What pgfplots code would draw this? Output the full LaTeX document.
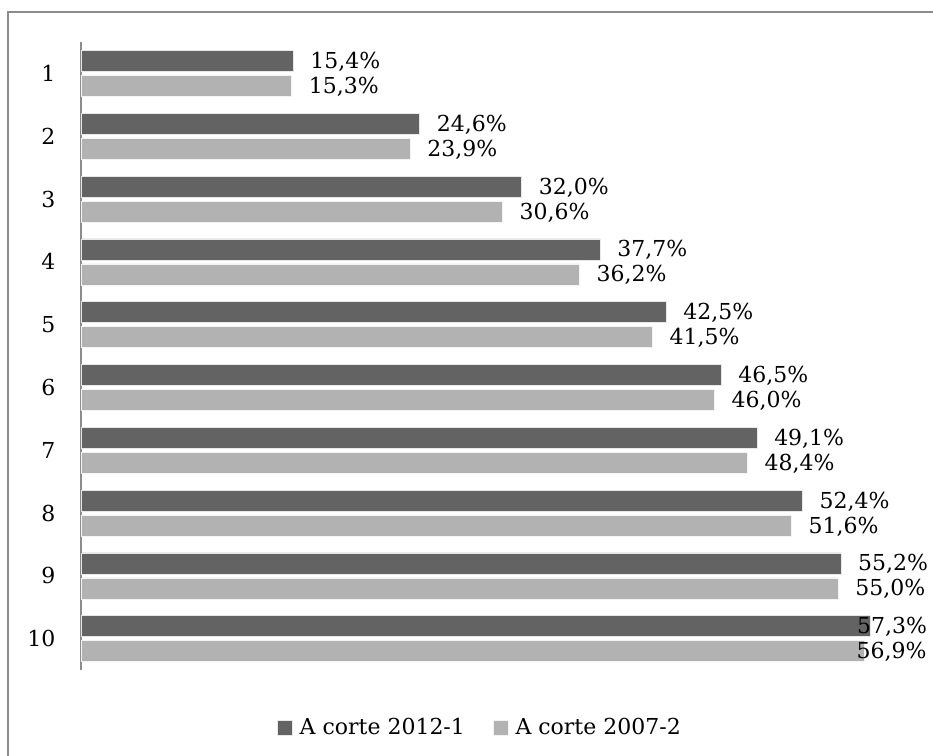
\documentclass[border=0pt]{standalone}
\usepackage{pgfplots}
\usepackage{pgfplotstable}
\pgfplotsset{compat=1.18}
\usepackage{fontspec}
\setmainfont{DejaVu Serif}
\definecolor{darkbar}{HTML}{636363}
\definecolor{lightbar}{HTML}{B2B2B2}
\definecolor{framegray}{HTML}{8C8C8C}
\pgfplotstableread{
cat a sa b sb
1 15.4 0 15.3 0
2 24.6 0 23.9 0
3 32.0 0 30.6 0
4 37.7 0 36.2 0
5 42.5 0 41.5 0
6 46.5 0 46.0 0
7 49.1 0 48.4 0
8 52.4 0 51.6 0
9 55.2 0 55.0 0
10 57.3 -30 56.9 -25
}\datatable
\begin{document}
\begin{tikzpicture}
\useasboundingbox (-81pt,-85pt) rectangle (852pt,670pt);
\draw[framegray, line width=1.3pt] (-73pt,-90pt) -- (-73pt,658pt) -- (860pt,658pt);
\begin{axis}[
  scale only axis,
  width=826pt, height=628pt,
  xmin=0, xmax=60,
  ymin=0.5, ymax=10.5,
  y dir=reverse,
  axis x line=none,
  axis y line*=left,
  y axis line style={draw=gray!90, line width=1pt},
  ytick={1,...,10},
  major tick length=0pt,
  yticklabel style={xshift=-22pt},
  font=\fontsize{22}{26}\selectfont,
  /pgf/number format/assume math mode=true,
  xbar,
  bar width=21pt,
  nodes near coords={\pgfmathprintnumber[use comma,fixed,fixed zerofill,precision=1]{\pgfplotspointmeta}\%},
  point meta=x,
  nodes near coords style={anchor=west, inner sep=0pt, text=black, font=\fontsize{22}{26}\selectfont, /pgf/number format/assume math mode=true},
  legend style={at={(0.483,-0.091)}, anchor=center, draw=none, fill=none, legend columns=2,
    font=\fontsize{22}{26}\selectfont, column sep=5pt,
    /tikz/every even column/.append style={column sep=26pt}},
  legend image code/.code={\fill[#1] (0pt,-8pt) rectangle (15pt,7pt);},
  clip=false,
]
\addplot[xbar, bar shift=12.5pt, fill=darkbar, draw=white!85!darkbar, line width=0.6pt,
  visualization depends on={\thisrow{sa} \as \sh},
  every node near coord/.append style={xshift=\sh pt+17pt, yshift=-1pt}]
  table[x=a, y=cat] {\datatable};
\addplot[xbar, bar shift=-12.5pt, fill=lightbar, draw=white!85!lightbar, line width=0.6pt,
  visualization depends on={\thisrow{sb} \as \sh},
  every node near coord/.append style={xshift=\sh pt+17pt, yshift=-1pt}]
  table[x=b, y=cat] {\datatable};
\legend{A corte 2012-1, A corte 2007-2}
\end{axis}
\end{tikzpicture}
\end{document}
